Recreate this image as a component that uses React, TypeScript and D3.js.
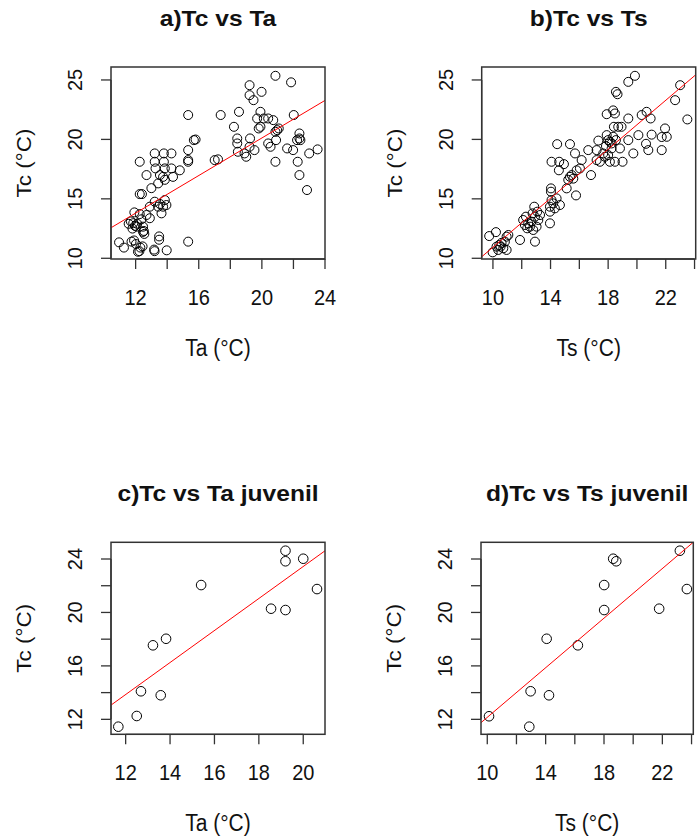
import React from "react";
import * as d3 from "d3";

// panel a: Tc vs Ta (all)
const taA = [10.95, 11.26, 11.74, 12.02, 12.24, 12.44, 12.06, 11.56, 11.7, 11.85, 11.96, 12.1, 11.8, 12.26, 11.92, 12.47, 12.47, 12.26, 12.4, 12.26, 12.69, 13.0, 13.21, 13.79, 14.27, 13.21, 13.79, 13.26, 13.85, 14.27, 14.8, 13.54, 13.74, 14.37, 13.43, 13.85, 12.9, 13.21, 13.54, 13.74, 13.95, 13.64, 13.85, 13.43, 12.69, 12.9, 12.37, 13.49, 13.49, 13.17, 13.2, 13.97, 15.33, 15.33, 15.33, 15.33, 15.33, 15.69, 15.8, 17.01, 17.22, 17.39, 18.23, 18.55, 18.44, 18.44, 18.48, 18.9, 19.01, 19.22, 19.22, 19.22, 19.47, 19.98, 19.53, 19.25, 19.91, 19.7, 19.91, 19.8, 20.12, 20.4, 20.72, 20.86, 21.85, 22.02, 20.4, 20.55, 20.86, 20.97, 21.07, 20.9, 20.86, 21.6, 21.98, 22.23, 22.38, 22.38, 22.44, 22.27, 22.38, 22.86, 23.0, 23.53, 12.15, 12.3, 11.9, 12.52, 12.55];
const tcA = [11.34, 10.9, 11.4, 11.2, 10.6, 11.0, 12.66, 12.9, 13.1, 12.95, 12.73, 12.9, 12.5, 13.72, 13.86, 12.22, 12.66, 15.4, 15.4, 18.12, 17.0, 15.9, 18.82, 18.82, 18.82, 18.12, 18.12, 17.56, 17.56, 17.56, 17.4, 17.0, 16.85, 16.85, 16.3, 16.6, 14.34, 14.76, 14.57, 14.34, 14.48, 13.78, 14.9, 14.34, 13.64, 13.37, 13.28, 11.84, 11.56, 10.73, 10.6, 10.67, 11.4, 18.12, 18.26, 19.1, 22.05, 19.94, 19.99, 18.26, 18.32, 22.05, 21.06, 22.32, 20.08, 19.66, 18.96, 18.82, 18.54, 19.38, 24.56, 23.72, 23.3, 24.0, 19.1, 20.08, 22.32, 21.76, 21.06, 20.92, 21.76, 21.76, 21.62, 25.35, 24.8, 22.05, 19.66, 19.38, 20.64, 20.78, 20.92, 19.94, 18.12, 19.24, 19.1, 19.94, 20.5, 20.08, 19.94, 18.12, 17.0, 15.74, 18.82, 19.16, 10.55, 10.9, 11.5, 12.3, 12.05];

// panel b: Tc vs Ts (all)
const tsB = [9.74, 10.21, 9.98, 10.25, 10.44, 10.6, 10.83, 10.95, 11.07, 10.72, 10.95, 10.37, 10.53, 11.88, 12.92, 12.29, 12.22, 12.38, 12.57, 12.8, 13.03, 12.68, 12.92, 12.87, 13.08, 12.75, 12.45, 13.15, 12.1, 13.27, 13.96, 14.03, 14.03, 14.07, 13.96, 13.96, 14.19, 14.42, 14.3, 14.65, 14.07, 14.46, 14.6, 14.93, 14.58, 15.35, 15.7, 15.12, 15.35, 15.23, 15.47, 15.58, 15.81, 16.04, 15.77, 16.16, 16.62, 16.81, 17.2, 17.2, 17.43, 17.32, 17.66, 17.85, 17.9, 17.9, 18.0, 18.12, 18.12, 18.24, 18.35, 18.35, 18.47, 18.47, 18.54, 18.65, 18.7, 18.82, 18.93, 19.0, 19.4, 19.4, 19.86, 19.4, 19.75, 20.1, 20.33, 20.67, 20.95, 21.02, 20.63, 20.79, 21.72, 21.95, 22.07, 21.72, 22.65, 23.0, 23.5, 17.78, 18.0, 18.24, 18.54, 18.4];
const tcB = [11.87, 12.2, 10.5, 10.98, 11.12, 11.3, 11.4, 11.82, 11.96, 10.84, 10.7, 10.7, 10.98, 11.54, 11.4, 13.5, 12.8, 12.52, 12.66, 12.38, 12.66, 13.08, 13.5, 14.34, 13.92, 13.78, 12.94, 13.22, 13.22, 13.64, 12.94, 15.88, 15.6, 14.9, 14.34, 13.92, 14.62, 15.04, 14.2, 14.48, 18.12, 19.6, 18.12, 17.92, 17.4, 19.6, 18.82, 15.88, 16.85, 16.6, 17.0, 16.7, 17.4, 17.56, 15.29, 18.26, 19.1, 17.0, 19.1, 18.26, 18.12, 19.9, 18.82, 19.44, 20.36, 22.12, 19.94, 19.8, 18.12, 19.24, 20.22, 22.44, 22.18, 18.12, 24.0, 23.8, 21.06, 19.24, 21.06, 18.12, 21.76, 24.84, 25.35, 19.94, 18.82, 20.36, 22.05, 22.32, 21.76, 20.4, 19.63, 19.1, 20.2, 20.92, 20.22, 19.1, 23.3, 24.56, 21.68, 18.54, 18.68, 19.66, 19.94, 21.06];

// panel c: Tc vs Ta (juvenil)
const taC = [11.67, 12.5, 12.69, 13.58, 13.23, 13.82, 15.4, 18.55, 19.2, 19.2, 19.2, 20.0, 20.62];
const tcC = [11.45, 12.25, 14.1, 13.8, 17.54, 18.03, 22.05, 20.28, 20.18, 24.62, 23.83, 24.02, 21.75];

// panel d: Tc vs Ts (juvenil)
const tsD = [10.12, 12.88, 12.97, 14.23, 14.07, 16.21, 18.01, 18.01, 18.63, 18.84, 21.78, 23.2, 23.68];
const tcD = [12.23, 11.45, 14.1, 13.8, 18.03, 17.54, 22.05, 20.18, 24.02, 23.83, 20.28, 24.62, 21.75];

// fitted lines (intercept, slope)
const fitIntercept = [4.32, 0.63, -0.52, 2.87];
const fitSlope = [0.79, 1.03, 1.198, 0.928];

const titles = ["a)Tc vs Ta", "b)Tc vs Ts", "c)Tc vs Ta juvenil", "d)Tc vs Ts juvenil"];
const xLabels = ["Ta (°C)", "Ts (°C)", "Ta (°C)", "Ts (°C)"];
const yLabel = "Tc (°C)";

const xTicksA = [12, 14, 16, 18, 20, 22, 24];
const xTickLabelsA = [12, 16, 20, 24];
const xTicksB = [10, 12, 14, 16, 18, 20, 22, 24];
const xTickLabelsB = [10, 14, 18, 22];
const xTicksC = [12, 14, 16, 18, 20];
const xTickLabelsC = [12, 14, 16, 18, 20];
const yTicksTop = [10, 15, 20, 25];
const yTickLabelsTop = [10, 15, 20, 25];
const yTicksBottom = [12, 14, 16, 18, 20, 22, 24];
const yTickLabelsBottom = [12, 16, 20, 24];

const FONT = "'Liberation Sans', Arial, sans-serif";

function Panel(props: any) {
  const { id, box, xDomain, yDomain, xs, ys, xTicks, xTickLabels, yTicks, yTickLabels, title, xLabel, r } = props;
  const [left, right, top, bottom] = box;
  const x = d3.scaleLinear().domain(xDomain).range([left, right]);
  const y = d3.scaleLinear().domain(yDomain).range([bottom, top]);
  const cx = (left + right) / 2;
  const cy = (top + bottom) / 2;
  const a = fitIntercept[id];
  const b = fitSlope[id];
  const line = d3.line<number>().x((v) => x(v)).y((v) => y(a + b * v));
  const tl = 10;
  const clipId = "clip" + id;

  return (
    <g>
      <defs>
        <clipPath id={clipId}>
          <rect x={left} y={top} width={right - left} height={bottom - top} />
        </clipPath>
      </defs>
      <text
        transform={`translate(${cx}, ${top - 41}) scale(1.17, 1.05)`}
        textAnchor="middle"
        fontFamily={FONT}
        fontWeight="bold"
        fontSize={21}
        fill="#111"
      >
        {title}
      </text>

      {/* x axis */}
      <line x1={x(xTicks[0])} x2={x(xTicks[xTicks.length - 1])} y1={bottom} y2={bottom} stroke="#333" strokeWidth={1.3} />
      {xTicks.map((t: number) => (
        <line key={"xt" + t} x1={x(t)} x2={x(t)} y1={bottom} y2={bottom + tl} stroke="#333" strokeWidth={1.3} />
      ))}
      {xTickLabels.map((t: number) => (
        <text
          key={"xl" + t}
          transform={`translate(${x(t)}, ${bottom + 46}) scale(1, 1.12)`}
          textAnchor="middle"
          fontFamily={FONT}
          fontSize={20}
          fill="#111"
        >
          {t}
        </text>
      ))}
      <text
        transform={`translate(${cx}, ${bottom + 97}) scale(1, 1.1)`}
        textAnchor="middle"
        fontFamily={FONT}
        fontSize={21}
        fill="#111"
      >
        {xLabel}
      </text>

      {/* y axis */}
      <line x1={left} x2={left} y1={y(yTicks[0])} y2={y(yTicks[yTicks.length - 1])} stroke="#333" strokeWidth={1.3} />
      {yTicks.map((t: number) => (
        <line key={"yt" + t} x1={left - tl} x2={left} y1={y(t)} y2={y(t)} stroke="#333" strokeWidth={1.3} />
      ))}
      {yTickLabels.map((t: number) => (
        <text
          key={"yl" + t}
          transform={`translate(${left - 29}, ${y(t)}) rotate(-90)`}
          textAnchor="middle"
          fontFamily={FONT}
          fontSize={20}
          fill="#111"
        >
          {t}
        </text>
      ))}
      <text
        transform={`translate(${left - 80}, ${cy}) rotate(-90) scale(1.07, 1)`}
        textAnchor="middle"
        fontFamily={FONT}
        fontSize={21}
        fill="#111"
      >
        {yLabel}
      </text>

      {/* points */}
      {xs.map((v: number, i: number) => (
        <circle key={"p" + i} cx={x(v)} cy={y(ys[i])} r={r} fill="none" stroke="#000" strokeWidth={1} />
      ))}

      {/* fit line */}
      <path d={line(xDomain) || ""} fill="none" stroke="#ff0000" strokeWidth={1} clipPath={`url(#${clipId})`} />

      {/* box */}
      <rect x={left} y={top} width={right - left} height={bottom - top} fill="none" stroke="#333" strokeWidth={1.5} />
    </g>
  );
}

export default function App() {
  return (
    <svg
      width={698}
      height={839}
      style={{ position: "absolute", left: 0, top: 0, background: "#fff", display: "block" }}
    >
      <rect width={698} height={839} fill="#fff" />
      <Panel
        id={0}
        box={[111, 325, 67, 259]}
        xDomain={[10.44, 24]}
        yDomain={[9.94, 26.09]}
        xs={taA}
        ys={tcA}
        xTicks={xTicksA}
        xTickLabels={xTickLabelsA}
        yTicks={yTicksTop}
        yTickLabels={yTickLabelsTop}
        title={titles[0]}
        xLabel={xLabels[0]}
        r={4.5}
      />
      <Panel
        id={1}
        box={[481.7, 695.7, 67, 259]}
        xDomain={[9.22, 24.08]}
        yDomain={[9.94, 26.09]}
        xs={tsB}
        ys={tcB}
        xTicks={xTicksB}
        xTickLabels={xTickLabelsB}
        yTicks={yTicksTop}
        yTickLabels={yTickLabelsTop}
        title={titles[1]}
        xLabel={xLabels[1]}
        r={4.5}
      />
      <Panel
        id={2}
        box={[111, 325, 542.3, 734.3]}
        xDomain={[11.34, 20.98]}
        yDomain={[10.88, 25.25]}
        xs={taC}
        ys={tcC}
        xTicks={xTicksC}
        xTickLabels={xTickLabelsC}
        yTicks={yTicksBottom}
        yTickLabels={yTickLabelsBottom}
        title={titles[2]}
        xLabel={xLabels[2]}
        r={4.8}
      />
      <Panel
        id={3}
        box={[481, 693.3, 542.3, 734.3]}
        xDomain={[9.57, 24.12]}
        yDomain={[10.88, 25.25]}
        xs={tsD}
        ys={tcD}
        xTicks={xTicksB}
        xTickLabels={xTickLabelsB}
        yTicks={yTicksBottom}
        yTickLabels={yTickLabelsBottom}
        title={titles[3]}
        xLabel={xLabels[3]}
        r={4.8}
      />
    </svg>
  );
}
